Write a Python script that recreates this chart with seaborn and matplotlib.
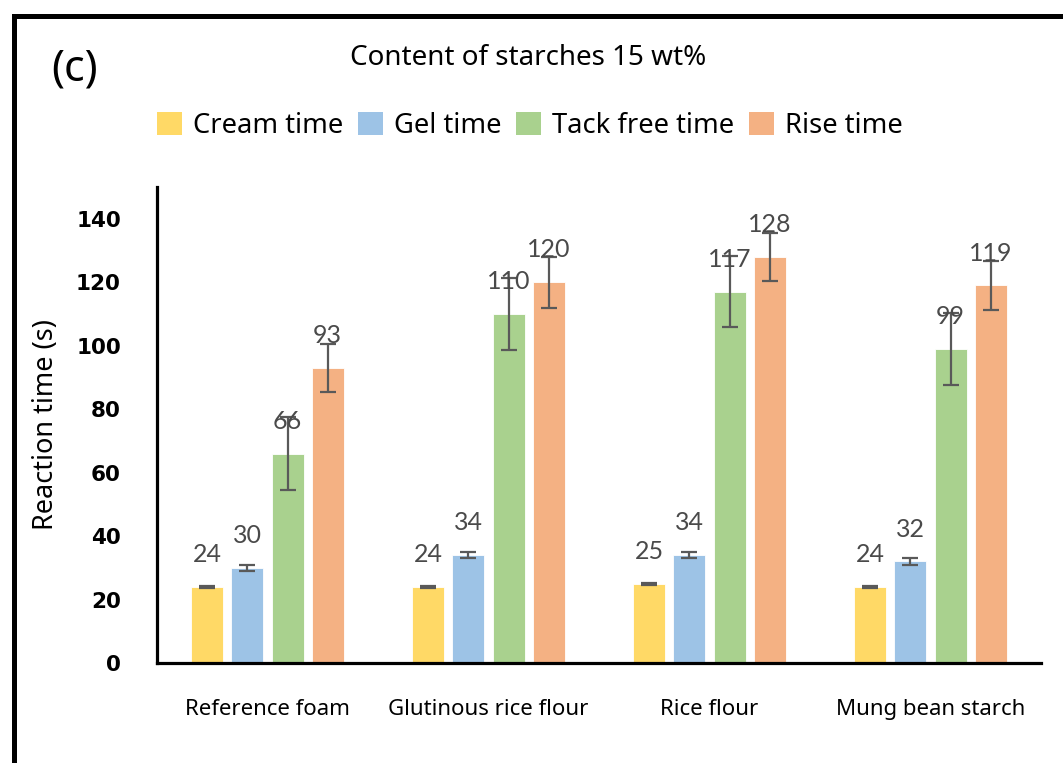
import matplotlib
matplotlib.use("Agg")
import matplotlib.pyplot as plt
from matplotlib.patches import Patch, Rectangle
import seaborn as sns
import pandas as pd

# Foaming reaction times for 15 wt% starch content
categories = ["Reference foam", "Glutinous rice flour", "Rice flour", "Mung bean starch"]
series = ["Cream time", "Gel time", "Tack free time", "Rise time"]

cream_time = [24, 24, 25, 24]
gel_time = [30, 34, 34, 32]
tack_free_time = [66, 110, 117, 99]
rise_time = [93, 120, 128, 119]

cream_err = [0.3, 0.3, 0.3, 0.3]
gel_err = [1.0, 1.0, 1.0, 1.0]
tack_free_err = [11.4, 11.3, 11.2, 11.3]
rise_err = [7.6, 8.0, 7.6, 7.7]

colors = ["#FFD966", "#9DC3E6", "#A9D18E", "#F4B183"]
yticks = [0, 20, 40, 60, 80, 100, 120, 140]

values = [cream_time, gel_time, tack_free_time, rise_time]
errors = [cream_err, gel_err, tack_free_err, rise_err]

df = pd.DataFrame({
    "Sample": [c for _ in series for c in categories],
    "Series": [s for s in series for _ in categories],
    "Time": [v for vals in values for v in vals],
})

sns.set_theme(style="white")
plt.rcParams["font.family"] = ["Noto Sans", "DejaVu Sans"]

fig = plt.figure(figsize=(10.63, 7.63), dpi=100)
ax = fig.add_axes([157 / 1063, 1 - 663 / 763, 884 / 1063, 476 / 763])

sns.barplot(data=df, x="Sample", y="Time", hue="Series", order=categories,
            hue_order=series, palette=colors, width=0.724, gap=0.2,
            errorbar=None, saturation=1, edgecolor="white", linewidth=0.6,
            legend=False, ax=ax)

# error bars and value labels on each series of bars
for cont, vals, errs in zip(ax.containers, values, errors):
    xs = [b.get_x() + b.get_width() / 2 for b in cont]
    hs = [b.get_height() for b in cont]
    ax.errorbar(xs, hs, yerr=errs, fmt="none", ecolor="#595959",
                elinewidth=1.6, capsize=6, capthick=1.6, zorder=3)
    ax.bar_label(cont, labels=[f"{v:g}" for v in vals], padding=15,
                 fontsize=18, color="#4A4A4A", family=["Lato", "DejaVu Sans"])

ax.set_ylim(0, 150)
ax.set_xlim(-0.5, 3.5)
ax.set_yticks(yticks)
ax.set_yticklabels([str(t) for t in yticks], fontsize=15.5, fontweight="bold",
                   family=["DejaVu Sans"], color="black")
ax.tick_params(axis="y", length=0, pad=26)
ax.tick_params(axis="x", length=0, pad=26, labelsize=16, labelcolor="black")

for side in ["top", "right"]:
    ax.spines[side].set_visible(False)
for side in ["left", "bottom"]:
    ax.spines[side].set_color("black")
    ax.spines[side].set_linewidth(2.3)

ax.set_xlabel("")
ax.set_ylabel("Reaction time (s)", fontsize=19.5, color="black")
ax.yaxis.set_label_coords(-0.110, 0.5)

# heading and panel tag
fig.text(528 / 1063, 1 - 58 / 763, "Content of starches 15 wt%", ha="center",
         va="center", fontsize=20, color="black")
fig.text(51 / 1063, 1 - 69 / 763, "(c)", ha="left", va="center",
         fontsize=31, color="black")

handles = [Patch(facecolor=c, edgecolor="none", label=s) for c, s in zip(colors, series)]
fig.legend(handles=handles, loc="center", bbox_to_anchor=(530 / 1063, 1 - 126 / 763),
           ncol=4, frameon=False, fontsize=19.7, handlelength=0.9, handleheight=0.9,
           handletextpad=0.4, columnspacing=0.55, borderaxespad=0,
           labelcolor="black")

# outer frame of the panel
fig.patches.append(Rectangle((13.5 / 1063, -0.2), 1.5, 1.2 - 15.5 / 763,
                             transform=fig.transFigure, fill=False,
                             edgecolor="black", linewidth=3.6, clip_on=False))

fig.savefig("out.png", dpi=100)
